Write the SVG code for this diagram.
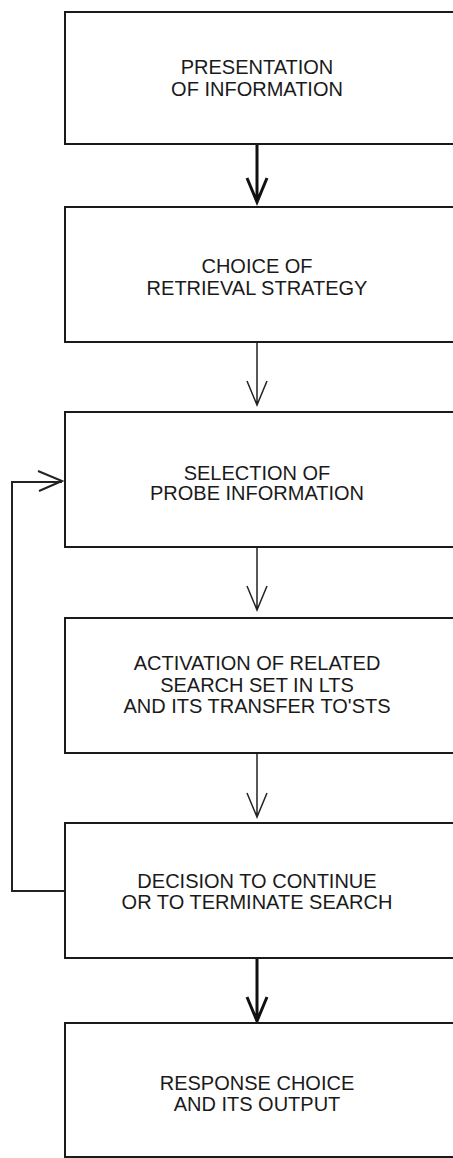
<svg xmlns="http://www.w3.org/2000/svg" width="453" height="1158" viewBox="0 0 453 1158">
<style>
.box{fill:#fff;stroke:#1a1a1a;stroke-width:2}
.lbl{font-family:"Liberation Sans",Arial,sans-serif;font-size:20px;fill:#1a1a1a;text-anchor:middle}
.thick{fill:none;stroke:#111;stroke-width:3}
.thin{fill:none;stroke:#222;stroke-width:1.5}
</style>
<rect width="453" height="1158" fill="#fff"/>
<g id="connectors">
<path class="thick" d="M257 144V202M247 178L257 202L267 178"/>
<path class="thin" d="M257 342V405M247 381L257 405L267 381"/>
<path class="thin" d="M257 547V610M247 586L257 610L267 586"/>
<path class="thin" d="M257 753V817M247 793L257 817L267 793"/>
<path class="thick" d="M257 958V1021M247 997L257 1021L267 997"/>
<path class="thin" style="stroke-width:2" d="M65 891H12V482H62M38 471L62 481L39 491"/>
</g>
<g id="n1"><rect class="box" x="65" y="12" width="390" height="132"/>
<text class="lbl" x="257" y="74">PRESENTATION</text><text class="lbl" x="257" y="96">OF INFORMATION</text></g>
<g id="n2"><rect class="box" x="65" y="207" width="390" height="135"/>
<text class="lbl" x="257" y="273">CHOICE OF</text><text class="lbl" x="257" y="295">RETRIEVAL STRATEGY</text></g>
<g id="n3"><rect class="box" x="65" y="412" width="390" height="135"/>
<text class="lbl" x="257" y="480">SELECTION OF</text><text class="lbl" x="257" y="500">PROBE INFORMATION</text></g>
<g id="n4"><rect class="box" x="65" y="618" width="390" height="135"/>
<text class="lbl" x="257" y="670">ACTIVATION OF RELATED</text><text class="lbl" x="257" y="692">SEARCH SET IN LTS</text><text class="lbl" x="257" y="713">AND ITS TRANSFER TO'STS</text></g>
<g id="n5"><rect class="box" x="65" y="823" width="390" height="135"/>
<text class="lbl" x="257" y="888">DECISION TO CONTINUE</text><text class="lbl" x="257" y="909">OR TO TERMINATE SEARCH</text></g>
<g id="n6"><rect class="box" x="65" y="1023" width="390" height="134"/>
<text class="lbl" x="257" y="1090">RESPONSE CHOICE</text><text class="lbl" x="257" y="1111">AND ITS OUTPUT</text></g>
</svg>
